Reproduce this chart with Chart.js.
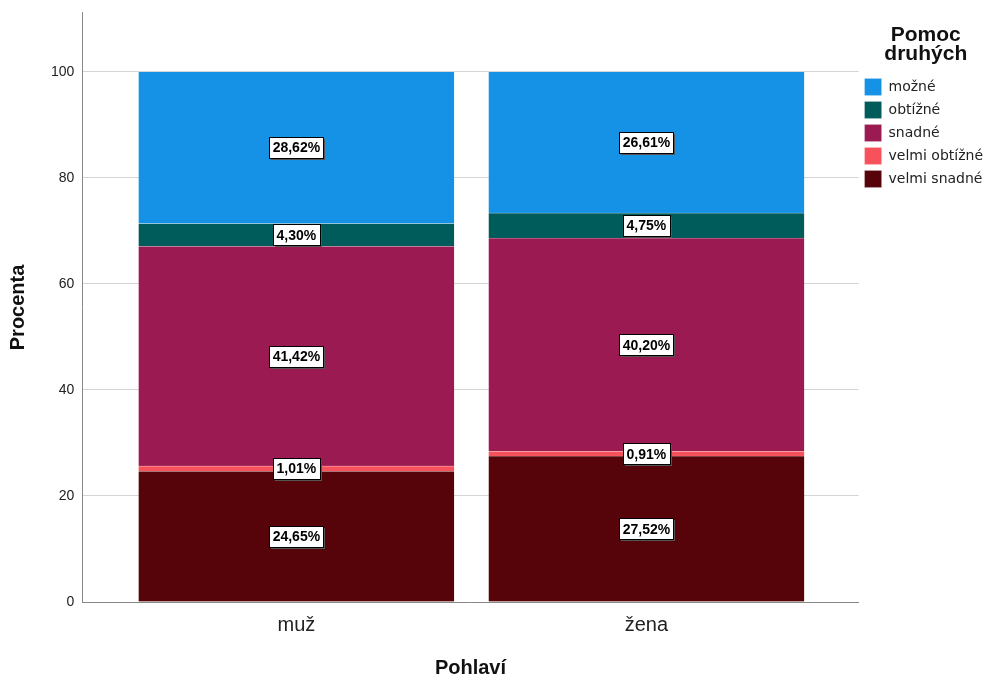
<!DOCTYPE html>
<html>
<head>
<meta charset="utf-8">
<script src="https://cdn.jsdelivr.net/npm/chart.js@4"></script>
<style>
html,body{margin:0;padding:0;background:#fff;}
#wrap{width:988px;height:676px;}
</style>
</head>
<body>
<div id="wrap"><canvas id="c" width="988" height="676"></canvas></div>
<script>
const categories = ['muž', 'žena'];
const seriesNames = ['velmi snadné', 'velmi obtížné', 'snadné', 'obtížné', 'možné'];
const velmiSnadne = [24.65, 27.52];
const velmiObtizne = [1.01, 0.91];
const snadne = [41.42, 40.20];
const obtizne = [4.30, 4.75];
const mozne = [28.62, 26.61];
const yTicks = [0, 20, 40, 60, 80, 100];
const colors = ['#560409', '#F7525C', '#9C1A52', '#005B5B', '#1592E6'];
const seriesValues = [velmiSnadne, velmiObtizne, snadne, obtizne, mozne];

const FONT = "'Liberation Sans', Arial, sans-serif";
const LFONT = "'DejaVu Sans', Verdana, sans-serif";

const datasets = seriesNames.map((n, i) => ({
  label: n,
  data: categories.map((c, j) => ({x: j + 1, y: seriesValues[i][j]})),
  backgroundColor: colors[i],
  borderColor: 'rgba(255,255,255,0.3)',
  borderWidth: 0.6,
  barThickness: 316
}));

const labelPlugin = {
  id: 'segLabels',
  afterDatasetsDraw(chart) {
    const ctx = chart.ctx;
    ctx.save();
    ctx.font = 'bold 14px ' + FONT;
    ctx.textAlign = 'center';
    ctx.textBaseline = 'middle';
    chart.data.datasets.forEach((ds, di) => {
      const meta = chart.getDatasetMeta(di);
      meta.data.forEach((bar, j) => {
        const v = seriesValues[di][j];
        const txt = v.toFixed(2).replace('.', ',') + '%';
        const cx = bar.x;
        const cy = (bar.y + bar.base) / 2;
        const w = Math.round(ctx.measureText(txt).width + 7);
        const h = 21;
        const x0 = Math.round(cx - w / 2) + 0.5, y0 = Math.round(cy - h / 2) + 0.5;
        ctx.fillStyle = '#555';
        ctx.fillRect(x0 + 1.5, y0 + 1.5, w, h);
        ctx.fillStyle = '#fff';
        ctx.fillRect(x0, y0, w, h);
        ctx.strokeStyle = '#000';
        ctx.lineWidth = 1;
        ctx.strokeRect(x0, y0, w, h);
        ctx.fillStyle = '#000';
        ctx.fillText(txt, cx, cy + 1);
      });
    });
    ctx.restore();
  }
};

new Chart(document.getElementById('c'), {
  type: 'bar',
  data: { datasets },
  plugins: [labelPlugin],
  options: {
    responsive: false,
    animation: false,
    devicePixelRatio: 1,
    layout: { padding: { left: 0, right: -5, top: 8, bottom: 0 } },
    scales: {
      x: {
        type: 'linear',
        stacked: true,
        offset: false,
        min: 0.3886,
        max: 2.606,
        afterBuildTicks(scale) { scale.ticks = categories.map((c, i) => ({value: i + 1})); },
        ticks: {
          callback: (v) => categories[v - 1] || '',
          color: '#222',
          font: { size: 20, family: FONT, lineHeight: 1 },
          padding: 13
        },
        grid: { display: false, drawTicks: false },
        border: { display: true, color: '#888', width: 1 },
        title: { display: true, text: 'Pohlaví', color: '#111', font: { size: 20, weight: 'bold', family: FONT, lineHeight: 0.9 }, padding: { top: 11, bottom: -1 } }
      },
      y: {
        stacked: true,
        min: 0,
        max: 111.1,
        afterBuildTicks(scale) { scale.ticks = yTicks.map(v => ({value: v})); },
        ticks: { color: '#222', font: { size: 14, family: FONT, lineHeight: 0.7 }, padding: 8 },
        grid: { color: '#D4D4D4', lineWidth: 1, drawTicks: false },
        border: { display: true, color: '#888', width: 1 },
        title: { display: true, text: 'Procenta', color: '#111', font: { size: 20, weight: 'bold', family: FONT }, padding: { top: 6, bottom: 13 } }
      }
    },
    plugins: {
      tooltip: { enabled: false },
      legend: {
        position: 'right',
        align: 'start',
        reverse: true,
        title: {
          display: true,
          text: ['Pomoc', 'druhých'],
          color: '#111',
          font: { size: 21, weight: 'bold', family: FONT, lineHeight: 0.9 },
          padding: { top: 16.5, bottom: 29 }
        },
        labels: {
          boxWidth: 17,
          boxHeight: 17,
          padding: 6,
          color: '#222',
          font: { size: 14, family: LFONT }
        }
      }
    }
  }
});
</script>
</body>
</html>
